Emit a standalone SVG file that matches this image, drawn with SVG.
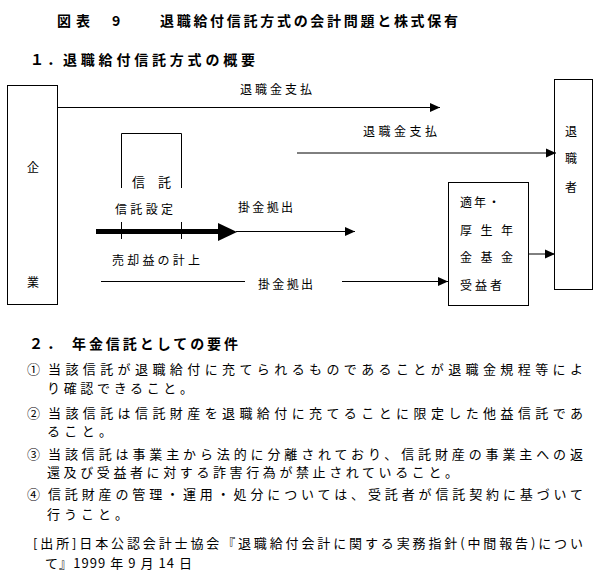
<svg xmlns="http://www.w3.org/2000/svg" width="599" height="574" viewBox="0 0 599 574">
<defs>
<style>
text{font-family:"Noto Sans CJK JP","Noto Sans CJK SC",sans-serif;fill:#000}
.t{font-size:14px;font-weight:bold}
.b{font-size:13px}
.s{font-size:12px}
.ln{stroke:#000;stroke-width:1;fill:none}
</style>
<marker id="ah" markerWidth="10" markerHeight="10" refX="10" refY="5" orient="auto" markerUnits="userSpaceOnUse"><path d="M0,0.5 L10,5 L0,9.5 z" fill="#000"/></marker>
</defs>
<rect width="599" height="574" fill="#fff"/>
<g id="title">
<text class="t" x="57" y="25.5" textLength="33" lengthAdjust="spacing">図表</text>
<text class="t" x="112" y="25.5">9</text>
<text class="t" x="160" y="25.5" textLength="298" lengthAdjust="spacing">退職給付信託方式の会計問題と株式保有</text>
</g>
<g id="heading1">
<text class="t" x="30" y="64.5">１</text>
<text class="t" x="47" y="64.5">．</text>
<text class="t" x="63" y="64.5" textLength="192" lengthAdjust="spacing">退職給付信託方式の概要</text>
</g>
<g id="company">
<rect class="ln" x="7.5" y="85.5" width="50" height="219"/>
<text class="s" x="27" y="172">企</text>
<text class="s" x="27" y="287">業</text>
</g>
<g id="retiree">
<rect class="ln" x="554.5" y="79.5" width="38" height="210"/>
<text class="s" x="565" y="135.5">退</text>
<text class="s" x="565" y="162.5">職</text>
<text class="s" x="565" y="191.5">者</text>
</g>
<g id="trust">
<path class="ln" d="M121.5,188 V133.5 H181.5 V188"/>
<path class="ln" d="M121.5,222 V239 M181.5,222 V239"/>
<text class="b" x="132" y="187">信</text>
<text class="b" x="158" y="187">託</text>
</g>
<g id="fund">
<rect class="ln" x="448.5" y="182.5" width="80" height="123"/>
<text class="s" x="460" y="206.5" textLength="40" lengthAdjust="spacing">適年・</text>
<text class="s" x="460" y="234.5" textLength="53" lengthAdjust="spacing">厚生年</text>
<text class="s" x="460" y="262" textLength="53" lengthAdjust="spacing">金基金</text>
<text class="s" x="460" y="289.5" textLength="42" lengthAdjust="spacing">受益者</text>
</g>
<g id="connectors">
<line class="ln" x1="57" y1="107.5" x2="440" y2="107.5" marker-end="url(#ah)"/>
<line class="ln" x1="297" y1="153" x2="556" y2="153" marker-end="url(#ah)"/>
<line x1="96" y1="231.5" x2="220" y2="231.5" stroke="#000" stroke-width="5"/>
<path d="M218,223 L237,232 L218,241 z" fill="#000"/>
<line class="ln" x1="236" y1="231.5" x2="355" y2="231.5" marker-end="url(#ah)"/>
<line class="ln" x1="101" y1="281.5" x2="245" y2="281.5"/>
<line class="ln" x1="342" y1="281.5" x2="448" y2="281.5" marker-end="url(#ah)"/>
<line class="ln" x1="528" y1="254" x2="555" y2="254" marker-end="url(#ah)"/>
</g>
<g id="labels">
<text class="s" x="240" y="93.5" textLength="72" lengthAdjust="spacing">退職金支払</text>
<text class="s" x="363" y="135.5" textLength="74" lengthAdjust="spacing">退職金支払</text>
<text class="s" x="115" y="213.5" textLength="58" lengthAdjust="spacing">信託設定</text>
<text class="s" x="238" y="211.5" textLength="55" lengthAdjust="spacing">掛金拠出</text>
<text class="s" x="112" y="264.5" textLength="88" lengthAdjust="spacing">売却益の計上</text>
<text class="s" x="258" y="289" textLength="55" lengthAdjust="spacing">掛金拠出</text>
</g>
<g id="heading2">
<text class="t" x="29" y="348.5">２</text>
<text class="t" x="47" y="348.5">．</text>
<text class="t" x="72" y="348.5" textLength="166" lengthAdjust="spacing">年金信託としての要件</text>
</g>
<g id="requirements">
<text class="b" x="27" y="374">①</text>
<text class="b" x="48" y="374" textLength="535" lengthAdjust="spacing">当該信託が退職給付に充てられるものであることが退職金規程等によ</text>
<text class="b" x="47" y="392.5" textLength="146" lengthAdjust="spacing">り確認できること。</text>
<text class="b" x="27" y="417.5">②</text>
<text class="b" x="48" y="417.5" textLength="535" lengthAdjust="spacing">当該信託は信託財産を退職給付に充てることに限定した他益信託であ</text>
<text class="b" x="47" y="436" textLength="65" lengthAdjust="spacing">ること。</text>
<text class="b" x="27" y="458.5">③</text>
<text class="b" x="48" y="458.5" textLength="535" lengthAdjust="spacing">当該信託は事業主から法的に分離されており、信託財産の事業主への返</text>
<text class="b" x="47" y="476.5" textLength="411" lengthAdjust="spacing">還及び受益者に対する詐害行為が禁止されていること。</text>
<text class="b" x="27" y="498.5">④</text>
<text class="b" x="48" y="498.5" textLength="535" lengthAdjust="spacing">信託財産の管理・運用・処分については、受託者が信託契約に基づいて</text>
<text class="b" x="47" y="518.5" textLength="81" lengthAdjust="spacing">行うこと。</text>
</g>
<g id="source">
<text class="b" x="33" y="547.5" textLength="550" lengthAdjust="spacing">[出所]日本公認会計士協会『退職給付会計に関する実務指針(中間報告)につい</text>
<text class="b" x="45" y="567.5" textLength="147" lengthAdjust="spacing">て』1999 年 9 月 14 日</text>
</g>
</svg>
